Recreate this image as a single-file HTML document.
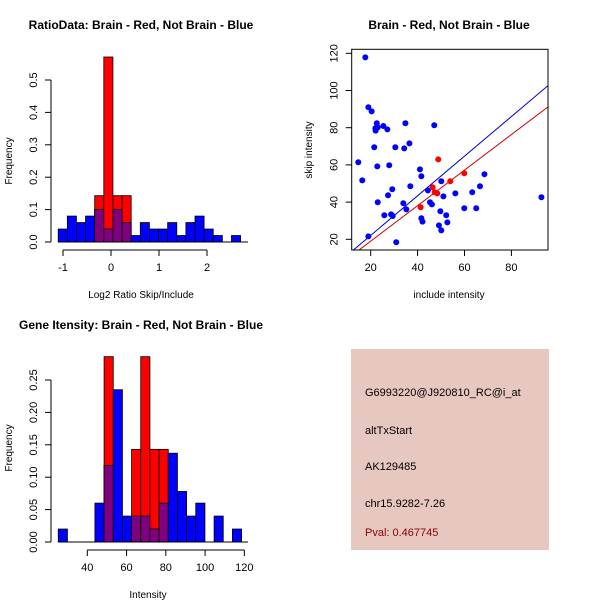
<!DOCTYPE html>
<html><head><meta charset="utf-8"><style>
body{margin:0;background:#fff}
svg{display:block;font-family:"Liberation Sans",sans-serif}
</style></head><body>
<svg id="c" width="600" height="600" viewBox="0 0 600 600"></svg>
<script>
// ---- Data: ratio histogram (top-left)
const ratioBinStart = -1.1;
const ratioBinWidth = 0.19;
const ratioBlue = [0.04,0.08,0.06,0.08,0.10,0.04,0.10,0.06,0.02,0.06,0.04,0.04,0.06,0.02,0.06,0.08,0.04,0.02,0,0.02];
const ratioRed  = [0,0,0,0,0.143,0.571,0.143,0.143,0,0,0,0,0,0,0,0,0,0,0,0];
const ratioYTicks = [0,0.1,0.2,0.3,0.4,0.5];
const ratioYLabels = ["0.0","0.1","0.2","0.3","0.4","0.5"];
const ratioXTicks = [-1,0,1,2];
// ---- Data: intensity histogram (bottom-left)
const intBinStart = 25.2;
const intBinWidth = 4.67;
const intBlue = [0.02,0,0,0,0.06,0.118,0.235,0.04,0.04,0.04,0.02,0.06,0.137,0.078,0.04,0.06,0,0.04,0,0.02];
const intRed  = [0,0,0,0,0,0.286,0,0,0.143,0.286,0.143,0.143,0,0,0,0,0,0,0,0];
const intYTicks = [0,0.05,0.10,0.15,0.20,0.25];
const intYLabels = ["0.00","0.05","0.10","0.15","0.20","0.25"];
const intXTicks = [40,60,80,100,120];
// ---- Data: scatter (top-right)
const blueX = [17.7,19.0,20.4,22.6,22.0,22.1,23.0,25.4,27.1,34.8,47.1,21.5,30.5,34.3,36.5,14.7,22.8,27.9,41.0,41.6,16.4,29.2,36.9,27.4,23.0,33.9,35.2,25.8,28.7,29.4,19.0,30.9,44.4,45.3,46.1,50.1,51.0,56.1,63.3,66.6,68.5,59.9,65.0,49.7,52.2,52.7,49.1,50.1,41.6,42.1,92.8];
const blueY = [117.8,91.0,88.8,82.4,79.7,78.4,80.2,80.9,79.1,82.4,81.3,69.5,69.5,68.9,71.6,61.4,59.2,59.8,57.6,53.9,51.7,46.9,48.5,43.7,39.9,39.4,36.1,32.9,33.4,32.5,21.6,18.4,46.3,39.9,38.8,51.2,43.1,44.7,45.3,48.5,55.0,36.7,36.7,35.1,32.9,29.1,27.5,24.8,31.3,29.5,42.6];
const redX = [48.8,46.4,47.3,48.4,53.9,59.9,41.3];
const redY = [63.0,48.0,45.3,44.7,51.2,55.5,37.2];
const blueLine = [0.8,1.065]; // intercept, slope
const redLine = [-0.1,0.955];
const scXTicks = [20,40,60,80];
const scYTicks = [20,40,60,80,100,120];

const NS="http://www.w3.org/2000/svg";
const svg=document.getElementById('c');
function mk(tag,attrs,parent){const e=document.createElementNS(NS,tag);for(const k in attrs)e.setAttribute(k,attrs[k]);(parent||svg).appendChild(e);return e;}
function txt(s,x,y,opts,parent){const e=mk('text',Object.assign({x:x,y:y,'font-size':11,'text-anchor':'middle',fill:'#000'},opts||{}),parent);e.textContent=s;return e;}

function hist(name,x0px,yBase,pxPerUnit,binStart,binW,xScale,yScale,blue,red){
  const g=mk('g',{});
  
  
  for(let i=0;i<blue.length;i++){
    const xa=xScale(binStart+i*binW), xb=xScale(binStart+(i+1)*binW);
    const b=blue[i], r=red[i];
    if(b>0){const e=mk('rect',{x:xa,y:yScale(b),width:xb-xa,height:yBase-yScale(b),fill:'#0000ff',stroke:'#000','stroke-width':0.8},g);
      
      }
    if(r>0){const e=mk('rect',{x:xa,y:yScale(r),width:xb-xa,height:yBase-yScale(r),fill:'#ff0000',stroke:'#000','stroke-width':0.8},g);
      
      }
    const m=Math.min(b,r);
    if(m>0){const e=mk('rect',{x:xa,y:yScale(m),width:xb-xa,height:yBase-yScale(m),fill:'#800080',stroke:'#000','stroke-width':0.8},g);
      
      }
  }
  mk('line',{x1:xScale(binStart),x2:248,y1:yBase,y2:yBase,stroke:'#000'},g);
}
function yAxis(name,x,yScale,ticks,labels){
  const g=mk('g',{});
  
  
  mk('line',{x1:x,x2:x,y1:yScale(ticks[0]),y2:yScale(ticks[ticks.length-1]),stroke:'#000'},g);
  ticks.forEach((t,i)=>{const y=yScale(t);mk('line',{x1:x-6,x2:x,y1:y,y2:y,stroke:'#000'},g);
    txt(labels[i],x-14,y,{transform:`rotate(-90 ${x-14} ${y})`,'font-size':11},g);});
}
function xAxis(name,y,xScale,ticks){
  const g=mk('g',{});
  
  
  mk('line',{x1:xScale(ticks[0]),x2:xScale(ticks[ticks.length-1]),y1:y,y2:y,stroke:'#000'},g);
  ticks.forEach(t=>{const x=xScale(t);mk('line',{x1:x,x2:x,y1:y,y2:y+6,stroke:'#000'},g);txt(String(t),x,y+21,{},g);});
}

// Plot 1
{
  const xS=v=>111+v*48, yS=v=>242-v*324;
  hist('ratio-hist',0,242,0,ratioBinStart,ratioBinWidth,xS,yS,ratioBlue,ratioRed);
  yAxis('ratio-y-axis',51,yS,ratioYTicks,ratioYLabels);
  xAxis('ratio-x-axis',250,xS,ratioXTicks);
  let t=txt('RatioData: Brain - Red, Not Brain - Blue',141,29,{'font-weight':'bold','font-size':12});
  
  t=txt('Log2 Ratio Skip/Include',141,298,{'font-size':10});
  
  t=txt('Frequency',12,161,{'font-size':10,transform:'rotate(-90 12 161)'});
  
}
// Plot 3
{
  const xS=v=>87.3+(v-40)*1.963, yS=v=>542-v*648;
  hist('intensity-hist',0,542,0,intBinStart,intBinWidth,xS,yS,intBlue,intRed);
  yAxis('intensity-y-axis',51,yS,intYTicks,intYLabels);
  xAxis('intensity-x-axis',550,xS,intXTicks);
  let t=txt('Gene Itensity: Brain - Red, Not Brain - Blue',141,329,{'font-weight':'bold','font-size':12});
  
  t=txt('Intensity',148,598,{'font-size':10});
  
  t=txt('Frequency',12,448,{'font-size':10,transform:'rotate(-90 12 448)'});
  
}
// Scatter
{
  const xS=v=>370.7+(v-20)*2.345, yS=v=>239.3-(v-20)*1.86;
  const L=351.7,R=548,T=49.3,B=250;
  mk('defs',{}).innerHTML='<clipPath id="sc"><rect x="351.7" y="49.3" width="196.3" height="200.7"/></clipPath>';
  const g=mk('g',{'clip-path':'url(#sc)'});
  
  
  const xMin=10,xMax=100;
  let l=mk('line',{x1:xS(xMin),y1:yS(blueLine[0]+blueLine[1]*xMin),x2:xS(xMax),y2:yS(blueLine[0]+blueLine[1]*xMax),stroke:'#0000cc','stroke-width':1},g);
  
  l=mk('line',{x1:xS(xMin),y1:yS(redLine[0]+redLine[1]*xMin),x2:xS(xMax),y2:yS(redLine[0]+redLine[1]*xMax),stroke:'#cc0000','stroke-width':1},g);
  
  blueX.forEach((x,i)=>{const c=mk('circle',{cx:xS(x),cy:yS(blueY[i]),r:3,fill:'#0000ff'},g);
    });
  redX.forEach((x,i)=>{const c=mk('circle',{cx:xS(x),cy:yS(redY[i]),r:3,fill:'#ff0000'},g);
    });
  const bx=mk('rect',{x:L,y:T,width:R-L,height:B-T,fill:'none',stroke:'#000'});
  
  const ya=mk('g',{});
  scYTicks.forEach(t=>{const y=yS(t);mk('line',{x1:L-6,x2:L,y1:y,y2:y,stroke:'#000'},ya);txt(String(t),L-14,y,{transform:`rotate(-90 ${L-14} ${y})`},ya);});
  const xa=mk('g',{});
  scXTicks.forEach(t=>{const x=xS(t);mk('line',{x1:x,x2:x,y1:B,y2:B+6,stroke:'#000'},xa);txt(String(t),x,B+21,{},xa);});
  let t=txt('Brain - Red, Not Brain - Blue',449,29,{'font-weight':'bold','font-size':12});
  
  t=txt('include intensity',449,298,{'font-size':10});
  
  t=txt('skip intensity',312,150,{'font-size':10,transform:'rotate(-90 312 150)'});
  
}
// Info panel
{
  const g=mk('g',{});
  mk('rect',{x:351,y:349,width:198,height:201,fill:'#e6c8c0'},g);
  const lines=[['G6993220@J920810_RC@i_at',396,'#000','gene-id'],['altTxStart',434,'#000','event-type'],['AK129485',470,'#000','accession'],['chr15.9282-7.26',507,'#000','location'],['Pval: 0.467745',536,'#8b0000','pvalue']];
  lines.forEach(a=>{const t=txt(a[0],365,a[1],{'text-anchor':'start',fill:a[2],'font-size':11},g);
    });
}
</script>
</body></html>
